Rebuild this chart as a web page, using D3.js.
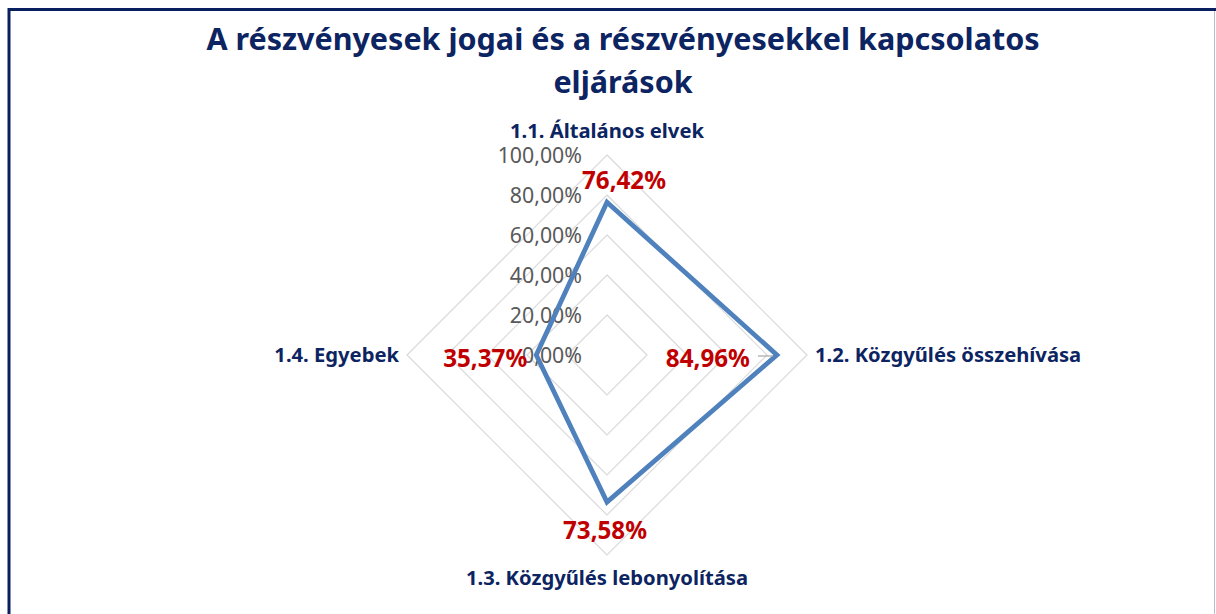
<!DOCTYPE html>
<html>
<head>
<meta charset="utf-8">
<script src="https://cdn.jsdelivr.net/npm/d3@7/dist/d3.min.js"></script>
<style>
  body { margin: 0; background: #fff; }
  svg { display: block; font-family: "Noto Sans", "Open Sans", sans-serif; }
</style>
</head>
<body>
<div id="chart"></div>
<script>
const titleLines = ["A részvényesek jogai és a részvényesekkel kapcsolatos", "eljárások"];
const categories = ["1.1. Általános elvek", "1.2. Közgyűlés összehívása", "1.3. Közgyűlés lebonyolítása", "1.4. Egyebek"];
const values = [0.7642, 0.8496, 0.7358, 0.3537];
const ticks = [0, 0.2, 0.4, 0.6, 0.8, 1.0];

const W = 1216, H = 614;
const cx = 607, cy = 355, radius = 200;
const navy = "#0c2461";

const huFormat = d3.formatLocale({ decimal: ",", thousands: " ", grouping: [3], currency: ["", " Ft"] }).format(".2%");

const svg = d3.select("#chart").append("svg")
    .attr("width", W)
    .attr("height", H);

// frame: navy on top and left, thin grey on right
svg.append("line").attr("x1", 9).attr("x2", 9).attr("y1", 8).attr("y2", H)
    .attr("stroke", "#082060").attr("stroke-width", 3);
svg.append("line").attr("x1", 8).attr("x2", W).attr("y1", 9.5).attr("y2", 9.5)
    .attr("stroke", "#082060").attr("stroke-width", 3);
svg.append("line").attr("x1", W - 1.5).attr("x2", W - 1.5).attr("y1", 11).attr("y2", H)
    .attr("stroke", "#b8bfcc").attr("stroke-width", 1);

svg.append("text")
    .attr("x", 623)
    .attr("text-anchor", "middle")
    .style("font-size", "30.5px")
    .style("font-weight", "bold")
    .style("fill", navy)
    .selectAll("tspan")
    .data(titleLines)
    .join("tspan")
    .attr("x", 623)
    .attr("y", (d, i) => 50 + i * 43)
    .text(d => d);

const r = d3.scaleLinear().domain([0, 1]).range([0, radius]);
const angle = d3.scalePoint().domain(d3.range(categories.length + 1)).range([0, 2 * Math.PI]);

const g = svg.append("g").attr("transform", `translate(${cx},${cy})`);

// grid diamonds
const gridLine = d3.lineRadial()
    .angle((d, i) => angle(i))
    .radius(d => r(d))
    .curve(d3.curveLinearClosed);

g.selectAll(".grid")
    .data(ticks.slice(1))
    .join("path")
    .attr("class", "grid")
    .attr("d", t => gridLine(categories.map(() => t)))
    .attr("fill", "none")
    .attr("stroke", "#d9d9d9")
    .attr("stroke-width", 1.2);

// value axis labels
g.selectAll(".tick-label")
    .data(ticks)
    .join("text")
    .attr("class", "tick-label")
    .attr("x", -25)
    .attr("y", t => -r(t))
    .attr("dy", "0.36em")
    .attr("text-anchor", "end")
    .style("font-size", "21.3px")
    .style("fill", "#595959")
    .text(t => huFormat(t));

// data series
g.append("path")
    .attr("d", gridLine(values))
    .attr("fill", "none")
    .attr("stroke", "#4f81bd")
    .attr("stroke-width", 4.8)
    .attr("stroke-linejoin", "miter");

const pointXY = (v, i) => [Math.sin(angle(i)) * r(v), -Math.cos(angle(i)) * r(v)];

// data label placement relative to point
const labelPlace = [
    { dx: 17, dy: -22, anchor: "middle" },
    { dx: -27, dy: 3, anchor: "end" },
    { dx: -2, dy: 28, anchor: "middle" },
    { dx: -9, dy: 3, anchor: "end" }
];

// leader line for the right hand label
const [px1, py1] = pointXY(values[1], 1);
g.append("line")
    .attr("x1", px1 - 19).attr("x2", px1 - 4)
    .attr("y1", py1 + 1).attr("y2", py1 + 1)
    .attr("stroke", "#a6a6a6")
    .attr("stroke-width", 1.2);

g.selectAll(".data-label")
    .data(values)
    .join("text")
    .attr("class", "data-label")
    .attr("x", (v, i) => pointXY(v, i)[0] + labelPlace[i].dx)
    .attr("y", (v, i) => pointXY(v, i)[1] + labelPlace[i].dy)
    .attr("dy", "0.36em")
    .attr("text-anchor", (v, i) => labelPlace[i].anchor)
    .style("font-size", "24.2px")
    .style("font-weight", "bold")
    .style("fill", "#c00000")
    .text(v => huFormat(v));

// category labels
const catPad = [24, 8, 23, 8];
g.selectAll(".cat-label")
    .data(categories)
    .join("text")
    .attr("class", "cat-label")
    .attr("x", (d, i) => Math.sin(angle(i)) * (radius + catPad[i]))
    .attr("y", (d, i) => -Math.cos(angle(i)) * (radius + catPad[i]))
    .attr("dy", "0.36em")
    .attr("text-anchor", (d, i) => i === 1 ? "start" : i === 3 ? "end" : "middle")
    .style("font-size", "20.2px")
    .style("font-weight", "bold")
    .style("fill", navy)
    .text(d => d);
</script>
</body>
</html>
